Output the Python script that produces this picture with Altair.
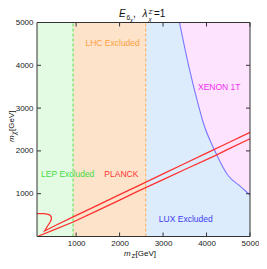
import altair as alt
import pandas as pd

FONT = "Liberation Sans"
W, H = 213, 214

# ---------------- data ----------------
tick_vals = [1000, 2000, 3000, 4000, 5000]

region_start = [100, 930, 2600]
region_end = [930, 2600, 5000]
region_fill = ["#e2fbe2", "#fde3ca", "#ddecfc"]

bound_mz = [930, 2600]
bound_color = ["#66e666", "#ffb366"]

xenon_mz = [3378, 3586, 3831, 3920, 4188, 4500, 4777, 5000]
xenon_mchi = [5000, 4000, 3000, 2675, 2010, 1420, 1173, 970]

planck_hi_mz = [100, 250, 330, 390, 425, 432, 410, 340, 275, 500, 931, 1500,
                2000, 2450, 3000, 3500, 4000, 4500, 5000]
planck_hi_mchi = [535, 533, 525, 505, 465, 410, 350, 240, 128, 245, 457, 735,
                  978, 1195, 1462, 1705, 1948, 2190, 2434]

planck_lo_mz = [110, 500, 931, 1500, 2000, 2450, 3000, 3500, 4188, 4500, 5000]
planck_lo_mchi = [0, 160, 339, 610, 850, 1070, 1330, 1565, 1885, 2040, 2283]

label_text = ["LEP Excluded", "LHC Excluded", "PLANCK", "LUX Excluded", "XENON 1T"]
label_mz = [807, 1840, 2040, 3523, 4293]
label_mchi = [1461, 4523, 1461, 416, 3500]
label_color = ["#44dd44", "#ffa040", "#ff3333", "#3c3cf0", "#f030f0"]

# ---------------- tables ----------------
regions = pd.DataFrame({"x": region_start, "x2": region_end, "y": [0] * 3,
                        "y2": [5000] * 3, "c": region_fill})
bounds = pd.DataFrame({"x": bound_mz, "y": [0, 0], "y2": [5000, 5000], "c": bound_color})
xenon = pd.DataFrame({"x": xenon_mz, "y": xenon_mchi, "y2": [5000] * len(xenon_mz)})
planck = pd.concat([
    pd.DataFrame({"x": planck_hi_mz, "y": planck_hi_mchi, "s": "hi",
                  "i": list(range(len(planck_hi_mz)))}),
    pd.DataFrame({"x": planck_lo_mz, "y": planck_lo_mchi, "s": "lo",
                  "i": list(range(len(planck_lo_mz)))}),
])
labels = pd.DataFrame({"x": label_mz, "y": label_mchi, "t": label_text, "c": label_color})
xticks = pd.DataFrame({"x": tick_vals})
yticks = pd.DataFrame({"y": tick_vals})

xs = alt.Scale(domain=[100, 5000], zero=False, nice=False)
ys = alt.Scale(domain=[0, 5000], zero=False, nice=False)
xaxis = alt.Axis(values=tick_vals, title=None, domain=False, ticks=False, grid=False,
                 labelFont=FONT, labelFontSize=8, labelColor="#222", labelPadding=3,
                 labelFlush=False, format="d")
yaxis = alt.Axis(values=tick_vals, title=None, domain=False, ticks=False, grid=False,
                 labelFont=FONT, labelFontSize=8, labelColor="#222", labelPadding=4,
                 labelFlush=False, format="d")
X = alt.X("x:Q", scale=xs, axis=xaxis)
Y = alt.Y("y:Q", scale=ys, axis=yaxis)

rects = alt.Chart(regions).mark_rect().encode(
    x=X, x2="x2:Q", y=Y, y2="y2:Q", fill=alt.Fill("c:N", scale=None))

pink = alt.Chart(xenon).mark_area(color="#fde3fd", opacity=1,
                                  interpolate="monotone").encode(x=X, y=Y, y2="y2:Q")
blue_line = alt.Chart(xenon).mark_line(color="#7878ff", strokeWidth=1.1,
                                       interpolate="monotone").encode(x=X, y=Y)

dashes = alt.Chart(bounds).mark_rule(strokeDash=[3, 2], strokeWidth=1.2).encode(
    x=X, y=Y, y2="y2:Q", color=alt.Color("c:N", scale=None))

red = alt.Chart(planck).mark_line(color="#ff3030", strokeWidth=1.3).encode(
    x=X, y=Y, detail="s:N", order="i:Q")

texts = alt.Chart(labels).mark_text(font=FONT, fontSize=8.5, align="center",
                                    baseline="middle").encode(
    x=X, y=Y, text="t:N", color=alt.Color("c:N", scale=None))

tick_c = "#333"
tb = alt.Chart(xticks).mark_rule(color=tick_c).encode(x=X, y=alt.value(H), y2=alt.value(H - 4))
tt = alt.Chart(xticks).mark_rule(color=tick_c).encode(x=X, y=alt.value(0), y2=alt.value(4))
tl = alt.Chart(yticks).mark_rule(color=tick_c).encode(y=Y, x=alt.value(0), x2=alt.value(4))
tr = alt.Chart(yticks).mark_rule(color=tick_c).encode(y=Y, x=alt.value(W), x2=alt.value(W - 4))

frame = alt.Chart(pd.DataFrame({"d": [0]})).mark_rect(fill=None, stroke="#333",
                                                      strokeWidth=1).encode(
    x=alt.value(0), x2=alt.value(W), y=alt.value(0), y2=alt.value(H))


def piece(txt, x, y, size, italic=False, angle=0):
    kw = dict(font=FONT, fontSize=size, align="left", baseline="alphabetic", color="#111")
    if italic:
        kw["fontStyle"] = "italic"
    if angle:
        kw["angle"] = angle
    return alt.Chart(pd.DataFrame({"t": [txt]})).mark_text(**kw).encode(
        text="t:N", x=alt.value(x), y=alt.value(y))


title_parts = [
    piece("E", 82, -5.5, 10, italic=True),
    piece("6", 89.5, -3, 6.5),
    piece("χ", 93, -1, 5.5, italic=True),
    piece(",", 96, -5.5, 10),
    piece("λ", 105.5, -5.5, 10, italic=True),
    piece("Z'", 111.5, -8.5, 6),
    piece("χ", 111.5, -2, 6, italic=True),
    piece("=1", 117, -5.5, 10),
]
xtitle = [
    piece("m", 87, H + 19, 8, italic=True),
    piece("Z'", 94.5, H + 21, 6),
    piece("[GeV]", 98.5, H + 19, 8),
]
ytitle = [
    piece("m", -23, 119.5, 8, italic=True, angle=270),
    piece("χ", -21, 112.5, 6.5, italic=True, angle=270),
    piece("[GeV]", -23, 108.5, 8, angle=270),
]

chart = alt.layer(rects, pink, dashes, blue_line, red, texts, tb, tt, tl, tr, frame,
                  *title_parts, *xtitle, *ytitle).properties(
    width=W, height=H,
    padding={"left": 29, "top": 14.5, "right": 9, "bottom": 21.5},
    autosize=alt.AutoSizeParams(type="none"),
).configure_view(stroke=None)

chart.save("out.html", embed_options={"renderer": "svg", "actions": False})
